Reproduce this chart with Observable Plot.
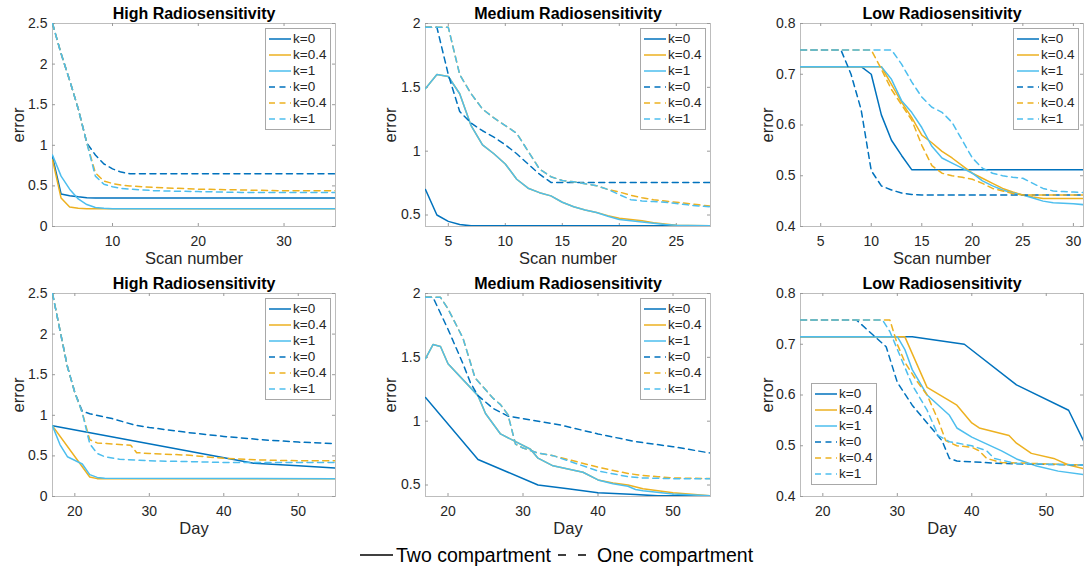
<!DOCTYPE html>
<html><head><meta charset="utf-8">
<script src="https://cdn.jsdelivr.net/npm/d3@7"></script>
<script src="https://cdn.jsdelivr.net/npm/@observablehq/plot@0.6"></script>
<style>
body{margin:0;background:#fff;font-family:"Liberation Sans",Arial,sans-serif;}
#wrap{position:relative;width:1086px;height:573px;overflow:hidden;}
.panel{position:absolute;width:362px;height:270px;}
.leg{position:absolute;background:#fff;border:1px solid #a8a8a8;font-size:13.5px;color:#262626;}
.leg .row{position:absolute;left:0;height:16px;line-height:16px;white-space:nowrap;}
.leg svg{position:absolute;left:2px;top:0;}
.leg span{position:absolute;left:27px;top:0;}
#bottomLeg{position:absolute;left:0;top:543px;width:1086px;height:26px;font-size:19.5px;color:#000;}
#bottomLeg span{position:absolute;top:0;line-height:24px;}
#bottomLeg svg{position:absolute;top:0;}
</style></head><body><div id="wrap"></div>
<script>
// ---------- labels / categories ----------
const kLabels = ["k=0", "k=0.4", "k=1"];
const colors = ["#0072BD", "#EDB120", "#4DBEEE"];
const titles = ["High Radiosensitivity", "Medium Radiosensitivity", "Low Radiosensitivity"];
const xLabels = ["Scan number", "Day"];
const yLabel = "error";
const modelLabels = ["Two compartment", "One compartment"];

// ---------- axis domains & ticks ----------
const scanDomains = [[3, 36], [3, 28], [3, 31]];
const dayDomain = [17, 55];
const yDomains = [[0, 2.5], [0.41, 2], [0.4, 0.8]];
const scanTicks = [[10, 20, 30], [5, 10, 15, 20, 25], [5, 10, 15, 20, 25, 30]];
const dayTicks = [20, 30, 40, 50];
const yTicks = [[0, 0.5, 1, 1.5, 2, 2.5], [0.5, 1, 1.5, 2], [0.4, 0.5, 0.6, 0.7, 0.8]];

// ---------- data: [x, error] ; order k=0, k=0.4, k=1 ----------
// High radiosensitivity, scan number
const highScanTwo = [
  [[3,0.86],[4,0.40],[5,0.38],[6,0.365],[7,0.355],[8,0.35],[36,0.35]],
  [[3,0.82],[4,0.35],[5,0.24],[6,0.225],[7,0.22],[36,0.22]],
  [[3,0.88],[4,0.62],[5,0.46],[6,0.34],[7,0.27],[8,0.235],[9,0.225],[10,0.22],[36,0.22]]
];
const highScanOne = [
  [[3,2.5],[4,2.13],[5,1.8],[6,1.45],[7,1.03],[8,0.88],[9,0.77],[10,0.71],[11,0.67],[12,0.65],[36,0.65]],
  [[3,2.5],[4,2.13],[5,1.8],[6,1.45],[7,1.03],[8,0.66],[9,0.56],[10,0.53],[11,0.51],[12,0.5],[15,0.48],[20,0.46],[25,0.45],[30,0.44],[36,0.44]],
  [[3,2.5],[4,2.13],[5,1.8],[6,1.45],[7,1.03],[8,0.62],[9,0.52],[10,0.49],[11,0.47],[12,0.46],[15,0.44],[20,0.43],[25,0.42],[36,0.42]]
];
// Medium radiosensitivity, scan number
const medScanTwo = [
  [[3,0.70],[4,0.50],[5,0.45],[6,0.425],[7,0.415],[28,0.415]],
  [[3,1.49],[4,1.60],[5,1.585],[6,1.45],[7,1.2],[8,1.05],[9,0.98],[10,0.9],[11,0.78],[12,0.71],[13,0.675],[14,0.65],[15,0.6],[16,0.565],[17,0.54],[18,0.52],[19,0.495],[20,0.475],[21,0.465],[22,0.455],[23,0.44],[24,0.43],[25,0.42],[26,0.418],[28,0.415]],
  [[3,1.49],[4,1.60],[5,1.585],[6,1.45],[7,1.2],[8,1.05],[9,0.98],[10,0.9],[11,0.78],[12,0.71],[13,0.675],[14,0.65],[15,0.6],[16,0.565],[17,0.54],[18,0.52],[19,0.49],[20,0.465],[21,0.455],[22,0.445],[23,0.435],[24,0.425],[25,0.42],[26,0.418],[28,0.415]]
];
const medScanOne = [
  [[3,1.97],[4,1.97],[5,1.6],[6,1.31],[7,1.22],[8,1.16],[9,1.11],[10,1.05],[11,0.98],[12,0.9],[13,0.82],[14,0.755],[28,0.755]],
  [[3,1.97],[5,1.97],[6,1.6],[7,1.45],[8,1.33],[9,1.26],[10,1.2],[11,1.14],[12,1.0],[13,0.86],[14,0.8],[15,0.77],[16,0.76],[17,0.745],[18,0.73],[19,0.7],[20,0.68],[21,0.655],[22,0.635],[23,0.62],[24,0.61],[25,0.6],[26,0.59],[27,0.58],[28,0.57]],
  [[3,1.97],[5,1.97],[6,1.6],[7,1.45],[8,1.33],[9,1.26],[10,1.2],[11,1.14],[12,1.0],[13,0.86],[14,0.8],[15,0.77],[16,0.76],[17,0.745],[18,0.73],[19,0.7],[20,0.66],[21,0.62],[22,0.61],[23,0.605],[24,0.6],[25,0.59],[26,0.58],[27,0.57],[28,0.565]]
];
// Low radiosensitivity, scan number
const lowScanTwo = [
  [[3,0.715],[9,0.715],[10,0.70],[11,0.62],[12,0.57],[13,0.54],[14,0.512],[31,0.512]],
  [[3,0.715],[11,0.715],[12,0.68],[13,0.645],[14,0.615],[15,0.58],[16,0.565],[17,0.548],[18,0.535],[19,0.52],[20,0.505],[21,0.495],[22,0.485],[23,0.475],[24,0.468],[25,0.462],[26,0.458],[27,0.455],[31,0.455]],
  [[3,0.715],[11,0.715],[12,0.69],[13,0.648],[14,0.625],[15,0.595],[16,0.558],[17,0.535],[18,0.525],[19,0.515],[20,0.505],[21,0.49],[22,0.48],[23,0.472],[24,0.466],[25,0.462],[26,0.456],[27,0.45],[28,0.447],[29,0.446],[30,0.445],[31,0.443]]
];
const lowScanOne = [
  [[3,0.748],[7,0.748],[8,0.70],[9,0.63],[10,0.51],[11,0.48],[12,0.472],[13,0.466],[14,0.463],[15,0.462],[31,0.462]],
  [[3,0.748],[10,0.748],[11,0.71],[12,0.67],[13,0.64],[14,0.61],[15,0.56],[16,0.52],[17,0.505],[18,0.5],[19,0.497],[20,0.493],[21,0.485],[22,0.475],[23,0.47],[24,0.465],[25,0.462],[31,0.462]],
  [[3,0.748],[12,0.748],[13,0.72],[14,0.685],[15,0.655],[16,0.635],[17,0.625],[18,0.605],[19,0.57],[20,0.535],[21,0.515],[22,0.505],[23,0.5],[24,0.497],[25,0.495],[26,0.485],[27,0.475],[28,0.47],[29,0.469],[30,0.468],[31,0.467]]
];
// High radiosensitivity, day
const highDayTwo = [
  [[17,0.87],[44,0.41],[50,0.38],[55,0.35]],
  [[17,0.87],[22,0.24],[23,0.22],[55,0.22]],
  [[17,0.87],[18,0.64],[19,0.49],[21,0.4],[22,0.27],[23,0.235],[24,0.225],[55,0.22]]
];
const highDayOne = [
  [[17,2.5],[18,2.05],[19,1.6],[20,1.28],[21,1.05],[22,1.02],[25,0.96],[28,0.88],[30,0.85],[35,0.79],[40,0.74],[45,0.7],[50,0.67],[55,0.65]],
  [[17,2.5],[18,2.05],[19,1.6],[20,1.28],[21,1.03],[22,0.7],[23,0.66],[27.5,0.63],[28.3,0.54],[30,0.53],[35,0.51],[40,0.47],[45,0.45],[50,0.44],[55,0.44]],
  [[17,2.5],[18,2.05],[19,1.6],[20,1.28],[21,1.03],[22,0.65],[23,0.53],[24,0.49],[26,0.46],[30,0.44],[35,0.43],[40,0.42],[55,0.42]]
];
// Medium radiosensitivity, day
const medDayTwo = [
  [[17,1.185],[24,0.70],[28,0.6],[32,0.50],[36,0.47],[40,0.44],[45,0.425],[48,0.415],[55,0.415]],
  [[17,1.49],[18,1.6],[19,1.585],[20,1.45],[24,1.2],[25,1.06],[27,0.9],[31,0.78],[32,0.71],[34,0.65],[38,0.6],[40,0.54],[42,0.515],[44,0.5],[46,0.47],[48,0.455],[50,0.44],[55,0.415]],
  [[17,1.49],[18,1.6],[19,1.585],[20,1.45],[24,1.2],[25,1.06],[27,0.9],[31,0.78],[32,0.71],[34,0.65],[38,0.6],[40,0.54],[42,0.51],[44,0.49],[45,0.465],[46,0.455],[50,0.43],[55,0.415]]
];
const medDayOne = [
  [[17,1.97],[18,1.97],[20,1.72],[22,1.45],[23,1.3],[24,1.2],[26,1.1],[28,1.04],[30,1.02],[35,0.97],[40,0.9],[45,0.84],[50,0.8],[55,0.75]],
  [[17,1.97],[19,1.97],[20,1.88],[22,1.65],[23.6,1.34],[26,1.18],[27,1.13],[28,1.05],[29,0.82],[30,0.79],[31,0.77],[32,0.75],[34,0.73],[36,0.7],[40,0.64],[44,0.59],[46,0.575],[48,0.565],[50,0.555],[55,0.55]],
  [[17,1.97],[19,1.97],[20,1.88],[22,1.65],[23.6,1.34],[26,1.18],[27,1.13],[28,1.05],[29,0.82],[30,0.79],[31,0.77],[32,0.75],[34,0.73],[36,0.69],[40,0.61],[44,0.565],[46,0.555],[50,0.55],[55,0.55]]
];
// Low radiosensitivity, day
const lowDayTwo = [
  [[17,0.715],[32,0.715],[39,0.70],[46,0.62],[53,0.57],[55,0.51]],
  [[17,0.715],[31,0.715],[34,0.615],[38,0.58],[40,0.545],[41,0.535],[45,0.52],[46,0.505],[48,0.485],[51,0.475],[53,0.462],[55,0.455]],
  [[17,0.715],[30,0.715],[31,0.69],[32,0.65],[34,0.6],[37,0.56],[38,0.535],[40,0.517],[44,0.49],[46,0.474],[48.7,0.46],[51.6,0.45],[55,0.443]]
];
const lowDayOne = [
  [[17,0.748],[24.5,0.748],[28.5,0.695],[30,0.625],[32,0.58],[34,0.545],[36,0.51],[37,0.475],[38,0.47],[44,0.465],[55,0.462]],
  [[17,0.748],[29,0.748],[30,0.70],[31,0.665],[32.5,0.63],[34,0.6],[35.5,0.55],[36.5,0.51],[38,0.5],[40,0.497],[41,0.49],[42,0.475],[44,0.467],[55,0.462]],
  [[17,0.748],[28,0.748],[29,0.725],[30,0.69],[32,0.62],[34,0.57],[35.5,0.52],[37,0.508],[40,0.5],[42,0.49],[43,0.475],[46,0.465],[55,0.462]]
];

// ---------- layout ----------
const FONT = "'Liberation Sans', Arial, Helvetica, sans-serif";
const colMargins = [[52, 27], [63, 14], [76, 3]];
const yLabelOffsets = [34, 35, 33];
const MT = 23, MB = 44, W = 362, H = 270;

const panels = [
  {row:0, col:0, two:highScanTwo, one:highScanOne, xDomain:scanDomains[0], xTicks:scanTicks[0], xLabel:xLabels[0], legend:"tr"},
  {row:0, col:1, two:medScanTwo,  one:medScanOne,  xDomain:scanDomains[1], xTicks:scanTicks[1], xLabel:xLabels[0], legend:"tr"},
  {row:0, col:2, two:lowScanTwo,  one:lowScanOne,  xDomain:scanDomains[2], xTicks:scanTicks[2], xLabel:xLabels[0], legend:"tr"},
  {row:1, col:0, two:highDayTwo,  one:highDayOne,  xDomain:dayDomain, xTicks:dayTicks, xLabel:xLabels[1], legend:"tr"},
  {row:1, col:1, two:medDayTwo,   one:medDayOne,   xDomain:dayDomain, xTicks:dayTicks, xLabel:xLabels[1], legend:"tr"},
  {row:1, col:2, two:lowDayTwo,   one:lowDayOne,   xDomain:dayDomain, xTicks:dayTicks, xLabel:xLabels[1], legend:"bl"}
];

const wrap = document.getElementById("wrap");

function rowsOf(series, model) {
  const out = [];
  series.forEach((s, i) => s.forEach(([x, y]) => out.push({x, y, k: kLabels[i], model})));
  return out;
}

function lineSample(color, dashed) {
  return `<svg width="24" height="16"><line x1="1" x2="23" y1="8" y2="8" stroke="${color}" stroke-width="1.5" ${dashed ? 'stroke-dasharray="6,4.5"' : ''}/></svg>`;
}

panels.forEach(p => {
  const [ML, MR] = colMargins[p.col];
  const pw = W - ML - MR, ph = H - MT - MB;
  const yDomain = yDomains[p.col], yT = yTicks[p.col];
  const solid = rowsOf(p.two, modelLabels[0]);
  const dashed = rowsOf(p.one, modelLabels[1]);
  const chart = Plot.plot({
    width: W, height: H,
    marginLeft: ML, marginRight: MR, marginTop: MT, marginBottom: MB,
    x: {domain: p.xDomain},
    y: {domain: yDomain},
    color: {domain: kLabels, range: colors},
    style: {fontFamily: FONT, fontSize: "14px", color: "#262626", background: "transparent", overflow: "visible"},
    marks: [
      Plot.frame({stroke: "#bdbdbd", strokeWidth: 1}),
      Plot.tickX(p.xTicks, {x: d => d, insetTop: ph - 3, stroke: "#9a9a9a"}),
      Plot.tickX(p.xTicks, {x: d => d, insetBottom: ph - 3, stroke: "#9a9a9a"}),
      Plot.tickY(yT, {y: d => d, insetRight: pw - 3, stroke: "#9a9a9a"}),
      Plot.tickY(yT, {y: d => d, insetLeft: pw - 3, stroke: "#9a9a9a"}),
      Plot.axisX(p.xTicks, {tickSize: 0, tickPadding: 10, label: null, fontSize: 14, fill: "#262626", tickFormat: d => String(d)}),
      Plot.axisY(yT, {tickSize: 0, tickPadding: 5, label: null, fontSize: 14, fill: "#262626", tickFormat: d => String(d)}),
      Plot.line(solid, {x: "x", y: "y", z: "k", stroke: "k", strokeWidth: 1.5, clip: true}),
      Plot.line(dashed, {x: "x", y: "y", z: "k", stroke: "k", strokeWidth: 1.5, strokeDasharray: "6,4.5", clip: true}),
      Plot.text([titles[p.col]], {text: d => d, frameAnchor: "top", lineAnchor: "middle", dy: -10, fontWeight: "bold", fontSize: 16, fill: "#000"}),
      Plot.text([p.xLabel], {text: d => d, frameAnchor: "bottom", lineAnchor: "middle", dy: 32, fontSize: 16.5, fill: "#262626"}),
      Plot.text([yLabel], {text: d => d, frameAnchor: "left", textAnchor: "middle", lineAnchor: "middle", dx: -yLabelOffsets[p.col], rotate: -90, fontSize: 16.5, fill: "#262626"})
    ]
  });
  const div = document.createElement("div");
  div.className = "panel";
  div.style.left = (p.col * 362) + "px";
  div.style.top = (p.row * 270) + "px";
  div.appendChild(chart);

  // in-axes legend
  const leg = document.createElement("div");
  leg.className = "leg";
  const lw = 64, lh = 100;
  leg.style.width = lw + "px";
  leg.style.height = lh + "px";
  if (p.legend === "tr") {
    leg.style.left = (W - MR - lw - 6) + "px";
    leg.style.top = (MT + 5) + "px";
  } else {
    leg.style.left = (ML + 11) + "px";
    leg.style.top = (H - MB - lh - 13) + "px";
  }
  let html = "";
  [false, true].forEach((d, m) => kLabels.forEach((k, i) => {
    const idx = m * 3 + i;
    html += `<div class="row" style="top:${2 + idx * 16}px;width:${lw}px">${lineSample(colors[i], d)}<span>${k}</span></div>`;
  }));
  leg.innerHTML = html;
  div.appendChild(leg);
  wrap.appendChild(div);
});

// bottom legend
const bl = document.createElement("div");
bl.id = "bottomLeg";
bl.innerHTML =
  `<svg style="left:360px" width="34" height="24"><line x1="0" x2="33" y1="12" y2="12" stroke="#000" stroke-width="1.5"/></svg>` +
  `<span style="left:396px">${modelLabels[0]}</span>` +
  `<svg style="left:557px" width="32" height="24"><line x1="1" x2="30" y1="12" y2="12" stroke="#000" stroke-width="1.5" stroke-dasharray="8,12"/></svg>` +
  `<span style="left:597px">${modelLabels[1]}</span>`;
wrap.appendChild(bl);
</script></body></html>
